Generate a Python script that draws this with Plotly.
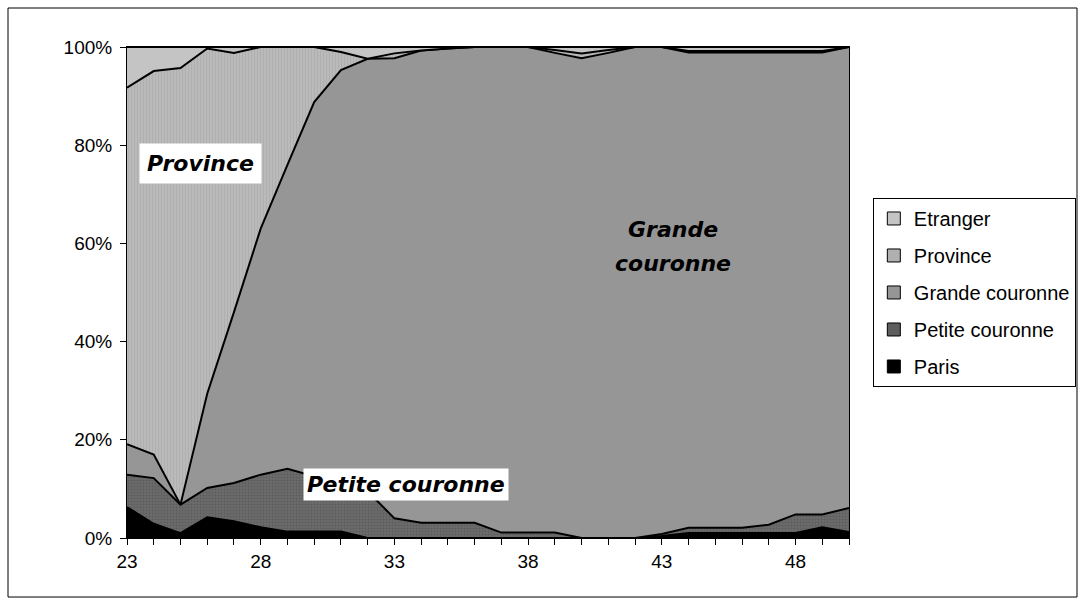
import plotly.graph_objects as go

# Age (years) on the horizontal axis
ages = list(range(23, 51))

# Share of each place of residence, in percent of the age group
paris = [6.3, 2.9, 1.0, 4.2, 3.4, 2.2, 1.3, 1.3, 1.3, 0.0,
         0.0, 0.0, 0.0, 0.0, 0.0, 0.0, 0.0, 0.0, 0.0, 0.0,
         0.4, 1.0, 1.0, 1.0, 1.0, 1.0, 2.2, 1.2]
petite_couronne = [6.6, 9.3, 5.8, 6.0, 7.8, 10.7, 12.8, 11.3, 9.7, 9.5,
                   4.0, 3.1, 3.1, 3.1, 1.1, 1.1, 1.1, 0.0, 0.0, 0.0,
                   0.4, 1.1, 1.1, 1.1, 1.7, 3.8, 2.6, 4.9]
grande_couronne = [6.2, 4.8, 0.0, 19.2, 34.8, 50.1, 61.9, 76.2, 84.3, 88.1,
                   93.7, 96.2, 96.6, 96.9, 98.9, 98.9, 97.7, 97.7, 98.8, 100.0,
                   99.2, 96.8, 96.8, 96.8, 96.2, 94.1, 94.1, 93.9]
province = [72.6, 78.1, 88.9, 70.3, 52.8, 37.0, 24.0, 11.2, 3.7, 0.0,
            1.0, 0.0, 0.0, 0.0, 0.0, 0.0, 0.6, 1.0, 0.6, 0.0,
            0.0, 0.3, 0.3, 0.3, 0.3, 0.3, 0.3, 0.0]
etranger = [100 - (a + b + c + d) for a, b, c, d in
            zip(paris, petite_couronne, grande_couronne, province)]

tick_labels = {23: "23", 28: "28", 33: "33", 38: "38", 43: "43", 48: "48"}
y_ticks = [0, 20, 40, 60, 80, 100]

series = [
    ("Paris", paris, "#000000",
     dict(fillcolor="#000000")),
    ("Petite couronne", petite_couronne, "#5e5e5e",
     dict(fillcolor="#686868",
          fillpattern=dict(shape=".", bgcolor="#6c6c6c", fgcolor="#4a4a4a",
                           size=3, solidity=0.35))),
    ("Grande couronne", grande_couronne, "#969696",
     dict(fillcolor="#969696")),
    ("Province", province, "#b0b0b0",
     dict(fillcolor="#b4b4b4",
          fillpattern=dict(shape="|", bgcolor="#bcbcbc", fgcolor="#a2a2a2",
                           size=3, solidity=0.45))),
    ("Etranger", etranger, "#c4c4c4",
     dict(fillcolor="#c4c4c4")),
]

fig = go.Figure()
for name, values, swatch, style in series:
    fig.add_trace(go.Scatter(
        x=ages, y=values, name=name, mode="lines",
        stackgroup="one", showlegend=False,
        line=dict(color="black", width=2),
        hoverinfo="skip",
        **style,
    ))
# Square swatches for the legend, top of the stack listed first
for name, values, swatch, style in reversed(series):
    fig.add_trace(go.Scatter(
        x=[None], y=[None], name=name, mode="markers",
        legendgroup="key " + name,
        marker=dict(symbol="square", size=13, color=swatch,
                    line=dict(color="black", width=1)),
    ))

font_main = "Liberation Sans, Arial, sans-serif"
font_label = "DejaVu Sans, Verdana, sans-serif"

fig.update_layout(
    width=1085, height=605,
    margin=dict(l=127, r=236, t=47, b=67, autoexpand=False),
    paper_bgcolor="white", plot_bgcolor="white",
    font=dict(family=font_main, size=19, color="black"),
    showlegend=True,
    legend=dict(
        x=1.033, y=0.6925, xanchor="left", yanchor="top",
        traceorder="grouped", tracegroupgap=8,
        bordercolor="black", borderwidth=1, bgcolor="white",
        font=dict(family=font_main, size=20, color="black"),
        itemwidth=30,
    ),
    xaxis=dict(
        range=[23, 50], tickmode="array",
        tickvals=ages, ticktext=[tick_labels.get(a, "") for a in ages],
        ticks="outside", ticklen=6, tickcolor="black",
        showline=True, linecolor="black", linewidth=1, mirror=True,
        showgrid=False, zeroline=False,
    ),
    yaxis=dict(
        range=[0, 100], tickmode="array",
        tickvals=y_ticks, ticktext=[f"{v}%" for v in y_ticks],
        ticks="outside", ticklen=6, tickcolor="black",
        ticklabelstandoff=4,
        showline=True, linecolor="black", linewidth=1, mirror=True,
        showgrid=False, zeroline=False,
    ),
)

label_font = dict(family=font_label, size=22, color="black", weight="bold", style="italic")
fig.add_annotation(x=25.75, y=76.2, text="Province", showarrow=False,
                   bgcolor="white", borderpad=7, font=label_font)
fig.add_annotation(x=33.44, y=10.9, text="Petite couronne", showarrow=False,
                   bgcolor="white", borderpad=3, font=label_font)
fig.add_annotation(x=43.42, y=62.9, text="Grande", showarrow=False, font=label_font)
fig.add_annotation(x=43.42, y=56.0, text="couronne", showarrow=False, font=label_font)

# Outer frame around the whole chart area
fig.add_shape(type="rect", xref="paper", yref="paper",
              x0=-0.1648, x1=1.3158, y0=-0.1202, y1=1.0794,
              line=dict(color="black", width=1), fillcolor="rgba(0,0,0,0)",
              layer="below")

fig.write_html("out.html")
